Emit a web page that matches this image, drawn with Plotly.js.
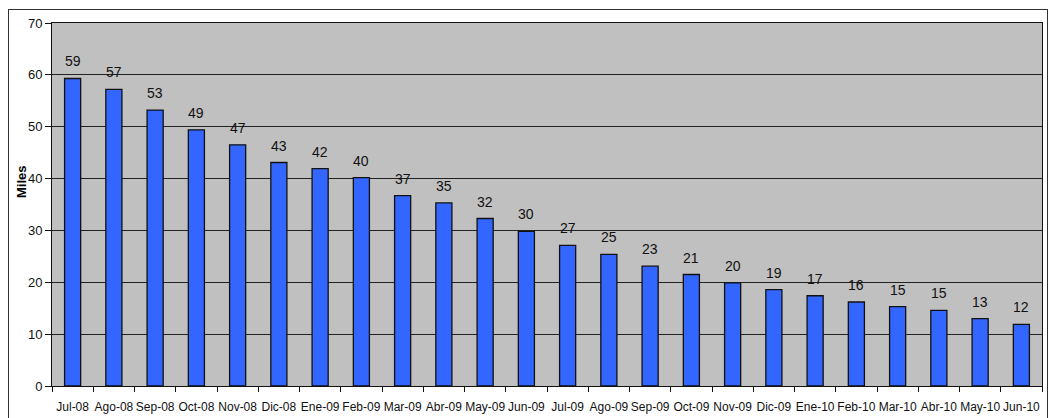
<!DOCTYPE html>
<html>
<head>
<meta charset="utf-8">
<script src="https://cdn.plot.ly/plotly-3.0.1.min.js"></script>
<style>
  html, body { margin: 0; padding: 0; background: #fff; }
  #wrap { position: relative; width: 1049px; height: 418px; overflow: hidden; }
  #chart { width: 1049px; height: 418px; }
  #frame { position: absolute; left: 8px; top: 9px; width: 1040px; height: 430px;
           border: 1.5px solid #333; pointer-events: none; box-sizing: border-box; }
</style>
</head>
<body>
<div id="wrap">
  <div id="chart"></div>
  <div id="frame"></div>
</div>
<script>
const months = ["Jul-08","Ago-08","Sep-08","Oct-08","Nov-08","Dic-08","Ene-09","Feb-09","Mar-09","Abr-09","May-09","Jun-09",
                "Jul-09","Ago-09","Sep-09","Oct-09","Nov-09","Dic-09","Ene-10","Feb-10","Mar-10","Abr-10","May-10","Jun-10"];
const miles = [59.3, 57.2, 53.2, 49.4, 46.5, 43.1, 41.9, 40.2, 36.7, 35.3, 32.3, 29.8,
               27.1, 25.4, 23.1, 21.5, 19.9, 18.6, 17.4, 16.2, 15.3, 14.6, 13.0, 11.9];
const labels = ["59","57","53","49","47","43","42","40","37","35","32","30",
                "27","25","23","21","20","19","17","16","15","15","13","12"];
const yTitle = "Miles";

const trace = {
  type: "bar",
  x: months,
  y: miles,
  marker: { color: "#3366FF", line: { color: "#111", width: 1.3 } },
  hoverinfo: "x+y"
};

const FONT = "Liberation Sans, Arial, sans-serif";

const annotations = months.map((m, i) => ({
  x: m, y: miles[i], xref: "x", yref: "y",
  text: labels[i], showarrow: false,
  yanchor: "bottom", yshift: 7,
  font: { family: FONT, size: 14, color: "#111" }
}));
annotations.push({
  xref: "paper", yref: "paper", x: -0.0303, y: 0.562,
  xanchor: "center", yanchor: "middle", textangle: -90,
  text: "<b>" + yTitle + "</b>", showarrow: false,
  font: { family: FONT, size: 13, color: "#000" }
});

const layout = {
  width: 1049, height: 418,
  margin: { l: 52, r: 7, t: 23, b: 32 },
  paper_bgcolor: "rgba(0,0,0,0)",
  plot_bgcolor: "#C0C0C0",
  bargap: 0.61,
  showlegend: false,
  font: { family: FONT, size: 12, color: "#111" },
  xaxis: {
    type: "category",
    tickson: "boundaries",
    ticks: "outside", ticklen: 5, tickcolor: "#111", tickwidth: 1,
    showline: true, linecolor: "#111", linewidth: 1, mirror: true,
    showgrid: false,
    tickangle: 0,
    ticklabelstandoff: 10,
    tickfont: { family: FONT, size: 12, color: "#111" },
    automargin: false
  },
  yaxis: {
    range: [0, 70], dtick: 10,
    ticks: "outside", ticklen: 6, tickcolor: "#111", tickwidth: 1,
    showline: true, linecolor: "#111", linewidth: 1, mirror: true,
    showgrid: true, gridcolor: "#222", gridwidth: 1,
    zeroline: false,
    tickfont: { family: FONT, size: 13, color: "#111" },
    automargin: false
  },
  annotations: annotations
};

Plotly.newPlot("chart", [trace], layout, { displayModeBar: false, staticPlot: true });
</script>
</body>
</html>
